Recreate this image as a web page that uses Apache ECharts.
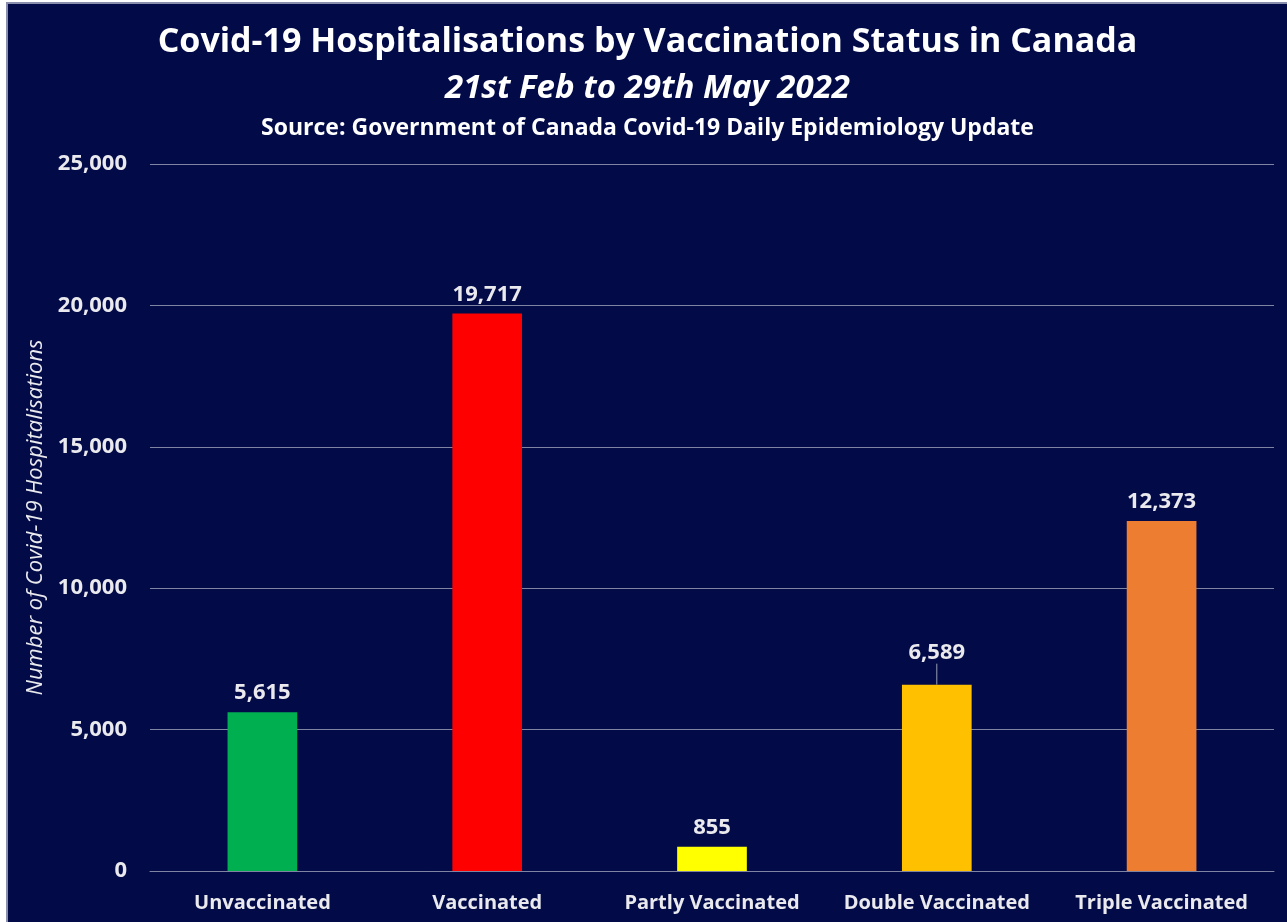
<!DOCTYPE html>
<html>
<head>
<meta charset="utf-8">
<script src="https://cdn.jsdelivr.net/npm/echarts@6/dist/echarts.min.js"></script>
<style>
  html, body { margin: 0; padding: 0; background: #ffffff; }
  #chart {
    position: absolute; left: 6px; top: 2px;
    width: 1279px; height: 918px;
    border-left: 2px solid #8a8fae; border-top: 2px solid #8a8fae;
    background: #020b47;
  }
</style>
</head>
<body>
<div id="chart"></div>
<script>
// categories and values
var categories = ['Unvaccinated', 'Vaccinated', 'Partly Vaccinated', 'Double Vaccinated', 'Triple Vaccinated'];
var hospitalisations = [5615, 19717, 855, 6589, 12373];
var barColors = ['#00b050', '#ff0000', '#ffff00', '#ffc000', '#ed7d31'];

var fontFam = 'Open Sans';
var textCol = '#e9e9ee';

var chart = echarts.init(document.getElementById('chart'));

var option = {
  backgroundColor: '#020b47',
  title: [
    {
      text: 'Covid-19 Hospitalisations by Vaccination Status in Canada',
      left: 'center', top: 16,
      textStyle: { color: '#ffffff', fontFamily: fontFam, fontWeight: 'bold', fontSize: 34 }
    },
    {
      text: '21st Feb to 29th May 2022',
      left: 'center', top: 63,
      textStyle: { color: '#ffffff', fontFamily: fontFam, fontWeight: 'bold', fontStyle: 'italic', fontSize: 33 }
    },
    {
      text: 'Source: Government of Canada Covid-19 Daily Epidemiology Update',
      left: 'center', top: 108,
      textStyle: { color: '#ffffff', fontFamily: fontFam, fontWeight: 'bold', fontSize: 23 }
    }
  ],
  grid: { left: 142, right: 13, top: 160, bottom: 51 },
  xAxis: {
    type: 'category',
    data: categories,
    axisLine: { show: true, lineStyle: { color: '#7f84a3', width: 1 } },
    axisTick: { show: false },
    axisLabel: { interval: 0, color: textCol, fontFamily: fontFam, fontWeight: 'bold', fontSize: 20, margin: 22 }
  },
  yAxis: {
    type: 'value',
    min: 0, max: 25000, interval: 5000,
    name: 'Number of Covid-19 Hospitalisations',
    nameLocation: 'middle',
    nameGap: 94,
    nameTextStyle: { color: textCol, fontFamily: fontFam, fontStyle: 'italic', fontSize: 22 },
    axisLine: { show: false },
    axisTick: { show: false },
    splitLine: { lineStyle: { color: '#7f84a3', width: 1 } },
    axisLabel: {
      color: textCol, fontFamily: fontFam, fontWeight: 'bold', fontSize: 22, margin: 23,
      formatter: function (v) { return v.toLocaleString('en-US'); }
    }
  },
  series: [{
    type: 'bar',
    barWidth: '31%',
    data: hospitalisations.map(function (v, i) {
      return {
        value: v,
        itemStyle: { color: barColors[i] },
        labelLine: { show: i === 3, lineStyle: { color: '#9a9eb8', width: 1 } }
      };
    }),
    label: {
      show: true, position: 'top', distance: 8,
      color: textCol, fontFamily: fontFam, fontWeight: 'bold', fontSize: 22,
      formatter: function (p) { return p.value.toLocaleString('en-US'); }
    },
    labelLine: { show: false },
    labelLayout: function (p) {
      return p.dataIndex === 3 ? { dy: -13 } : {};
    }
  }]
};

chart.setOption(option);
</script>
</body>
</html>
